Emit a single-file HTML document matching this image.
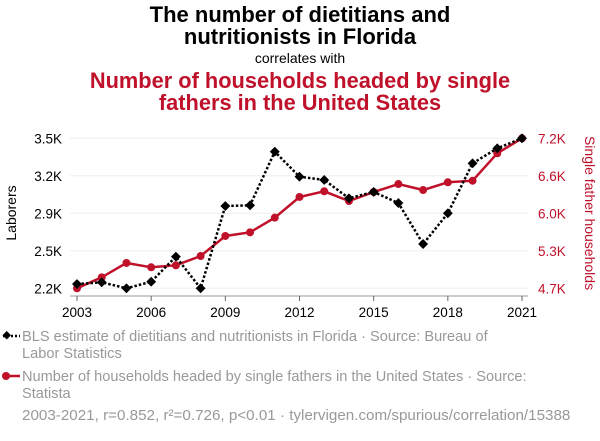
<!DOCTYPE html>
<html><head><meta charset="utf-8"><style>
body{margin:0;background:#fff;font-family:"Liberation Sans",sans-serif;}
svg text{font-family:"Liberation Sans",sans-serif;}
</style></head><body>
<svg width="600" height="436" xmlns="http://www.w3.org/2000/svg">
<text x="300" y="22" text-anchor="middle" font-size="22" font-weight="bold" fill="#000">The number of dietitians and</text>
<text x="300" y="44" text-anchor="middle" font-size="22" font-weight="bold" fill="#000">nutritionists in Florida</text>
<text x="300" y="63" text-anchor="middle" font-size="14" fill="#000">correlates with</text>
<text x="300" y="88" text-anchor="middle" font-size="21.8" font-weight="bold" fill="#c0112b">Number of households headed by single</text>
<text x="300" y="110" text-anchor="middle" font-size="21.8" font-weight="bold" fill="#c0112b">fathers in the United States</text>
<g id="grid"></g><g id="axes"></g><g id="marks"></g>
<text transform="translate(16,213) rotate(-90)" text-anchor="middle" font-size="14" fill="#000">Laborers</text>
<text transform="translate(585,213) rotate(90)" text-anchor="middle" font-size="14" fill="#c0112b">Single father households</text>
<g>
<line x1="3" y1="336" x2="20" y2="336" stroke="#000" stroke-width="2.5" stroke-dasharray="2,2"/>
<rect x="3" y="332" width="6" height="6" transform="rotate(45 6 336)" fill="#000"/>
<text x="22" y="341" font-size="14.6" fill="#999">BLS estimate of dietitians and nutritionists in Florida · Source: Bureau of</text>
<text x="22" y="358" font-size="14.6" fill="#999">Labor Statistics</text></g>
<g>
<line x1="3" y1="376" x2="20" y2="376" stroke="#c0112b" stroke-width="2.5"/>
<circle cx="6" cy="376" r="4" fill="#c0112b"/>
<text x="22" y="381" font-size="14.6" fill="#999">Number of households headed by single fathers in the United States · Source:</text>
<text x="22" y="398" font-size="14.6" fill="#999">Statista</text></g>
<text x="22" y="420" font-size="15.2" fill="#999">2003-2021, r=0.852, r²=0.726, p&lt;0.01 · tylervigen.com/spurious/correlation/15388</text>
</svg>
<script>
const years=[2003,2004,2005,2006,2007,2008,2009,2010,2011,2012,2013,2014,2015,2016,2017,2018,2019,2020,2021];
const dietitians=[2237,2252,2200,2257,2474,2200,2913,2919,3384,3167,3139,2980,3035,2939,2584,2850,3283,3413,3500];
const fathers=[4700,4883,5122,5050,5083,5238,5572,5633,5877,6222,6317,6155,6305,6438,6338,6467,6493,6950,7200];
const xTicks=[2003,2006,2009,2012,2015,2018,2021];
const leftTicks=[2200,2525,2850,3175,3500];
const leftLabels=["2.2K","2.5K","2.9K","3.2K","3.5K"];
const rightTicks=[4700,5325,5950,6575,7200];
const rightLabels=["4.7K","5.3K","6.0K","6.6K","7.2K"];
const NS="http://www.w3.org/2000/svg";
const x=v=>77+(v-2003)/18*445;
const yL=v=>288.3-(v-2200)/1300*150;
const yR=v=>288.3-(v-4700)/2500*150;
function mk(tag,attrs,parent,txt){const e=document.createElementNS(NS,tag);for(const k in attrs)e.setAttribute(k,attrs[k]);if(txt!==undefined)e.textContent=txt;document.getElementById(parent).appendChild(e);return e;}
leftTicks.forEach((t,i)=>{
 const g=mk('line',{x1:70,x2:528,y1:yL(t),y2:yL(t),stroke:'#eee','stroke-width':1},'grid');
 
 
 const a=mk('text',{x:62,y:yL(t)+5,'text-anchor':'end','font-size':13.5,fill:'#000'},'axes',leftLabels[i]);
 
 
});
rightTicks.forEach((t,i)=>{
 const a=mk('text',{x:538,y:yR(t)+5,'font-size':13.5,fill:'#c0112b'},'axes',rightLabels[i]);
 
 
});
const ax=mk('line',{x1:70,x2:528,y1:296,y2:296,stroke:'#999','stroke-width':1},'axes');


xTicks.forEach(t=>{
 const tk=mk('line',{x1:x(t),x2:x(t),y1:296,y2:301,stroke:'#666','stroke-width':1},'axes');
 
 
 const l=mk('text',{x:x(t),y:317,'text-anchor':'middle','font-size':13.5,fill:'#000'},'axes',t);
 
 
});
const rp=mk('polyline',{points:years.map((yr,i)=>x(yr)+','+yR(fathers[i])).join(' '),fill:'none',stroke:'#c0112b','stroke-width':2.5},'marks');


years.forEach((yr,i)=>{
 const c=mk('circle',{cx:x(yr),cy:yR(fathers[i]),r:4,fill:'#c0112b'},'marks');
 
 
});
const bp=mk('polyline',{points:years.map((yr,i)=>x(yr)+','+yL(dietitians[i])).join(' '),fill:'none',stroke:'#000','stroke-width':2.5,'stroke-dasharray':'2.5,2'},'marks');


years.forEach((yr,i)=>{
 const cx=x(yr),cy=yL(dietitians[i]);
 const d=mk('rect',{x:cx-3.5,y:cy-3.5,width:7,height:7,fill:'#000',transform:`rotate(45 ${cx} ${cy})`},'marks');
 
 
});
</script>
</body></html>
